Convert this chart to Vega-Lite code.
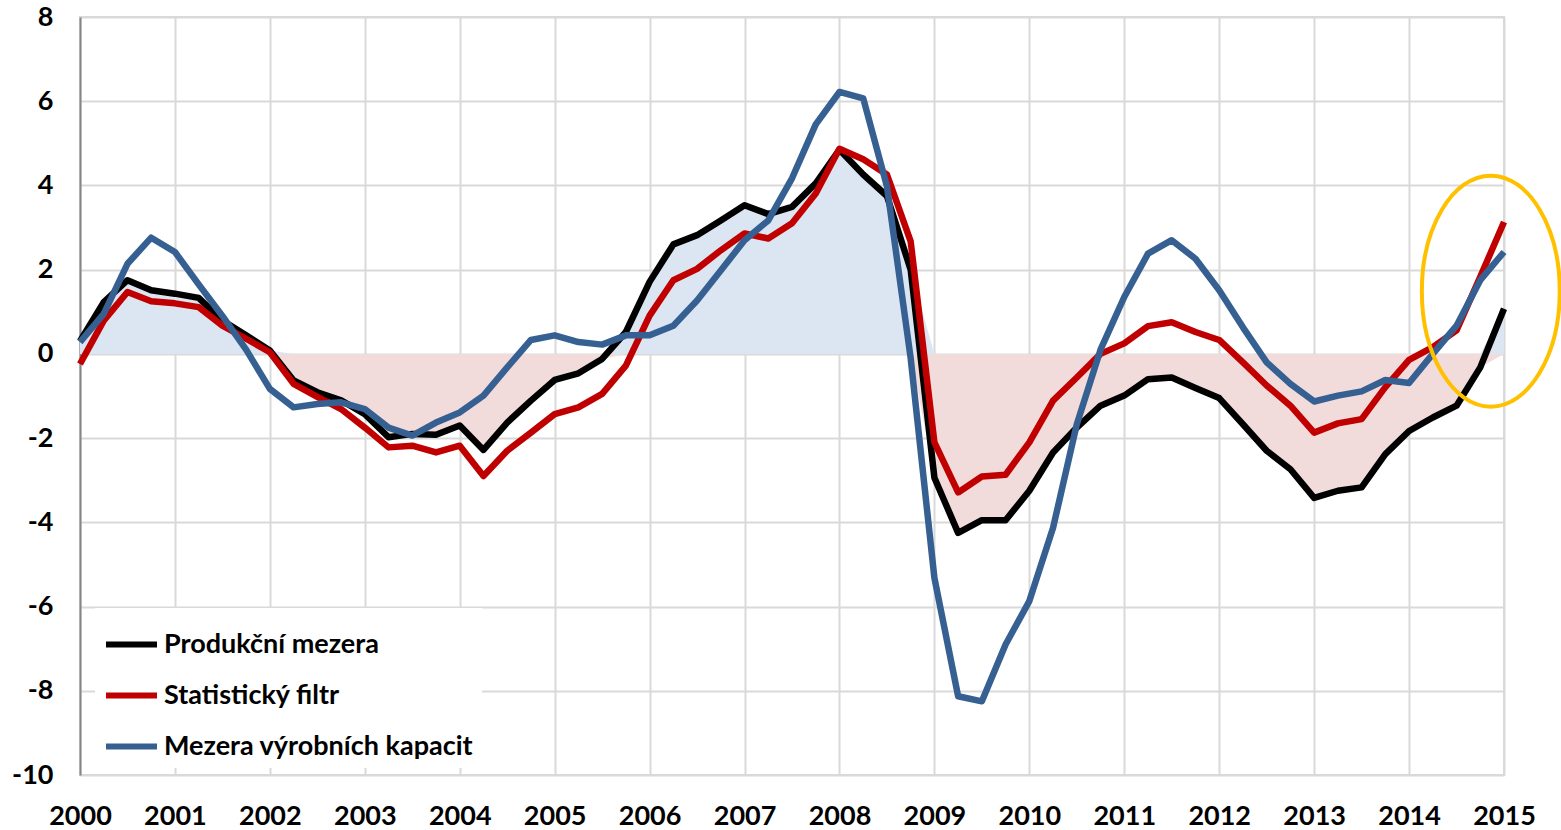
{
  "$schema": "https://vega.github.io/schema/vega-lite/v6.json",
  "width": 1424,
  "height": 758,
  "autosize": {"type": "none"},
  "padding": {"left": 80, "top": 17, "right": 57, "bottom": 55},
  "background": "white",
  "config": {
    "view": {"stroke": "#D9D9D9", "strokeWidth": 2},
    "axis": {
      "labelFont": "Lato",
      "labelFontWeight": "bold",
      "labelFontSize": 27,
      "labelColor": "black",
      "ticks": false,
      "gridColor": "#D9D9D9",
      "gridWidth": 2,
      "title": null
    }
  },
  "datasets": {
    "q": [
      {"t": 2000.00, "p": 0.30, "s": -0.24, "m": 0.28, "pos": 0.30, "neg": 0},
      {"t": 2000.25, "p": 1.23, "s": 0.79, "m": 0.95, "pos": 1.23, "neg": 0},
      {"t": 2000.50, "p": 1.75, "s": 1.47, "m": 2.14, "pos": 1.75, "neg": 0},
      {"t": 2000.75, "p": 1.51, "s": 1.25, "m": 2.76, "pos": 1.51, "neg": 0},
      {"t": 2001.00, "p": 1.43, "s": 1.20, "m": 2.42, "pos": 1.43, "neg": 0},
      {"t": 2001.25, "p": 1.33, "s": 1.11, "m": 1.65, "pos": 1.33, "neg": 0},
      {"t": 2001.50, "p": 0.79, "s": 0.67, "m": 0.90, "pos": 0.79, "neg": 0},
      {"t": 2001.75, "p": 0.44, "s": 0.36, "m": 0.10, "pos": 0.44, "neg": 0},
      {"t": 2002.00, "p": 0.08, "s": 0.04, "m": -0.83, "pos": 0.08, "neg": 0},
      {"t": 2002.25, "p": -0.63, "s": -0.71, "m": -1.27, "pos": 0, "neg": -0.63},
      {"t": 2002.50, "p": -0.91, "s": -1.02, "m": -1.19, "pos": 0, "neg": -0.91},
      {"t": 2002.75, "p": -1.10, "s": -1.31, "m": -1.15, "pos": 0, "neg": -1.10},
      {"t": 2003.00, "p": -1.43, "s": -1.75, "m": -1.31, "pos": 0, "neg": -1.43},
      {"t": 2003.25, "p": -1.98, "s": -2.22, "m": -1.75, "pos": 0, "neg": -1.98},
      {"t": 2003.50, "p": -1.90, "s": -2.18, "m": -1.94, "pos": 0, "neg": -1.90},
      {"t": 2003.75, "p": -1.92, "s": -2.34, "m": -1.63, "pos": 0, "neg": -1.92},
      {"t": 2004.00, "p": -1.70, "s": -2.18, "m": -1.39, "pos": 0, "neg": -1.70},
      {"t": 2004.25, "p": -2.28, "s": -2.90, "m": -0.99, "pos": 0, "neg": -2.28},
      {"t": 2004.50, "p": -1.63, "s": -2.30, "m": -0.32, "pos": 0, "neg": -1.63},
      {"t": 2004.75, "p": -1.11, "s": -1.87, "m": 0.33, "pos": 0, "neg": -1.11},
      {"t": 2005.00, "p": -0.62, "s": -1.43, "m": 0.44, "pos": 0, "neg": -0.62},
      {"t": 2005.25, "p": -0.46, "s": -1.27, "m": 0.28, "pos": 0, "neg": -0.46},
      {"t": 2005.50, "p": -0.12, "s": -0.95, "m": 0.22, "pos": 0, "neg": -0.12},
      {"t": 2005.75, "p": 0.52, "s": -0.28, "m": 0.44, "pos": 0.52, "neg": 0},
      {"t": 2006.00, "p": 1.71, "s": 0.91, "m": 0.44, "pos": 1.71, "neg": 0},
      {"t": 2006.25, "p": 2.60, "s": 1.75, "m": 0.67, "pos": 2.60, "neg": 0},
      {"t": 2006.50, "p": 2.82, "s": 2.02, "m": 1.27, "pos": 2.82, "neg": 0},
      {"t": 2006.75, "p": 3.17, "s": 2.46, "m": 1.98, "pos": 3.17, "neg": 0},
      {"t": 2007.00, "p": 3.53, "s": 2.86, "m": 2.70, "pos": 3.53, "neg": 0},
      {"t": 2007.25, "p": 3.32, "s": 2.74, "m": 3.17, "pos": 3.32, "neg": 0},
      {"t": 2007.50, "p": 3.49, "s": 3.10, "m": 4.17, "pos": 3.49, "neg": 0},
      {"t": 2007.75, "p": 4.05, "s": 3.81, "m": 5.45, "pos": 4.05, "neg": 0},
      {"t": 2008.00, "p": 4.85, "s": 4.87, "m": 6.22, "pos": 4.85, "neg": 0},
      {"t": 2008.25, "p": 4.26, "s": 4.62, "m": 6.07, "pos": 4.26, "neg": 0},
      {"t": 2008.50, "p": 3.75, "s": 4.26, "m": 3.98, "pos": 3.75, "neg": 0},
      {"t": 2008.75, "p": 2.00, "s": 2.67, "m": -0.10, "pos": 2.00, "neg": 0},
      {"t": 2009.00, "p": -2.94, "s": -2.10, "m": -5.32, "pos": 0, "neg": -2.94},
      {"t": 2009.25, "p": -4.25, "s": -3.29, "m": -8.13, "pos": 0, "neg": -4.25},
      {"t": 2009.50, "p": -3.95, "s": -2.91, "m": -8.25, "pos": 0, "neg": -3.95},
      {"t": 2009.75, "p": -3.95, "s": -2.87, "m": -6.90, "pos": 0, "neg": -3.95},
      {"t": 2010.00, "p": -3.25, "s": -2.10, "m": -5.87, "pos": 0, "neg": -3.25},
      {"t": 2010.25, "p": -2.34, "s": -1.11, "m": -4.13, "pos": 0, "neg": -2.34},
      {"t": 2010.50, "p": -1.75, "s": -0.56, "m": -1.67, "pos": 0, "neg": -1.75},
      {"t": 2010.75, "p": -1.23, "s": 0.00, "m": 0.10, "pos": 0, "neg": -1.23},
      {"t": 2011.00, "p": -0.99, "s": 0.25, "m": 1.35, "pos": 0, "neg": -0.99},
      {"t": 2011.25, "p": -0.60, "s": 0.66, "m": 2.38, "pos": 0, "neg": -0.60},
      {"t": 2011.50, "p": -0.56, "s": 0.75, "m": 2.70, "pos": 0, "neg": -0.56},
      {"t": 2011.75, "p": -0.81, "s": 0.52, "m": 2.26, "pos": 0, "neg": -0.81},
      {"t": 2012.00, "p": -1.05, "s": 0.33, "m": 1.51, "pos": 0, "neg": -1.05},
      {"t": 2012.25, "p": -1.67, "s": -0.20, "m": 0.63, "pos": 0, "neg": -1.67},
      {"t": 2012.50, "p": -2.30, "s": -0.75, "m": -0.20, "pos": 0, "neg": -2.30},
      {"t": 2012.75, "p": -2.74, "s": -1.23, "m": -0.71, "pos": 0, "neg": -2.74},
      {"t": 2013.00, "p": -3.42, "s": -1.87, "m": -1.13, "pos": 0, "neg": -3.42},
      {"t": 2013.25, "p": -3.25, "s": -1.65, "m": -0.99, "pos": 0, "neg": -3.25},
      {"t": 2013.50, "p": -3.17, "s": -1.55, "m": -0.89, "pos": 0, "neg": -3.17},
      {"t": 2013.75, "p": -2.38, "s": -0.79, "m": -0.62, "pos": 0, "neg": -2.38},
      {"t": 2014.00, "p": -1.83, "s": -0.14, "m": -0.69, "pos": 0, "neg": -1.83},
      {"t": 2014.25, "p": -1.51, "s": 0.16, "m": 0.00, "pos": 0, "neg": -1.51},
      {"t": 2014.50, "p": -1.23, "s": 0.56, "m": 0.67, "pos": 0, "neg": -1.23},
      {"t": 2014.75, "p": -0.32, "s": 1.83, "m": 1.75, "pos": 0, "neg": -0.32},
      {"t": 2015.00, "p": 1.07, "s": 3.13, "m": 2.42, "pos": 1.07, "neg": 0}
    ],
    "ring": [{"t": 2014.861, "v": 1.49}]
  },
  "data": {"name": "q"},
  "encoding": {
    "x": {
      "field": "t",
      "type": "quantitative",
      "scale": {"domain": [2000, 2015], "nice": false, "zero": false},
      "axis": {
        "values": [2000, 2001, 2002, 2003, 2004, 2005, 2006, 2007, 2008, 2009, 2010, 2011, 2012, 2013, 2014, 2015],
        "format": "d",
        "labelFlush": false,
        "labelOverlap": false,
        "labelPadding": 28,
        "domain": false,
        "zindex": 0
      }
    }
  },
  "layer": [
    {
      "mark": {"type": "area", "color": "#DCE6F2", "opacity": 1},
      "encoding": {
        "y": {
          "field": "pos",
          "type": "quantitative",
          "scale": {"domain": [-10, 8], "nice": false, "zero": false},
          "axis": {
            "values": [-10, -8, -6, -4, -2, 0, 2, 4, 6, 8],
            "labelExpr": "'' + datum.value",
            "labelPadding": 27,
            "domain": true,
            "domainColor": "#868686",
            "domainWidth": 2,
            "zindex": 0
          }
        },
        "y2": {"datum": 0}
      }
    },
    {
      "mark": {"type": "area", "color": "#F2DCDB", "opacity": 1},
      "encoding": {
        "y": {"field": "neg", "type": "quantitative"},
        "y2": {"datum": 0}
      }
    },
    {
      "data": {"values": [{}]},
      "mark": {"type": "rule", "color": "#000000", "opacity": 0.12, "strokeWidth": 5, "xOffset": 4},
      "encoding": {
        "x": {"datum": 2015},
        "y": {"datum": 7.9},
        "y2": {"datum": -10}
      }
    },
    {
      "data": {"values": [{}]},
      "mark": {"type": "rule", "color": "#000000", "opacity": 0.12, "strokeWidth": 5, "yOffset": 4},
      "encoding": {
        "x": {"datum": 2000.05},
        "x2": {"datum": 2015},
        "y": {"datum": -10}
      }
    },
    {
      "data": {"values": [{}]},
      "mark": {"type": "rule", "color": "#868686", "strokeWidth": 2},
      "encoding": {
        "x": {"datum": 2000},
        "x2": {"datum": 2015},
        "y": {"datum": 0}
      }
    },
    {
      "mark": {"type": "line", "strokeWidth": 6.5, "strokeJoin": "round"},
      "encoding": {
        "y": {"field": "p", "type": "quantitative"},
        "color": {
          "datum": "Produkční mezera",
          "type": "nominal",
          "scale": {
            "domain": ["Produkční mezera", "Statistický filtr", "Mezera výrobních kapacit"],
            "range": ["#000000", "#C00000", "#376092"]
          },
          "legend": {
            "title": null,
            "orient": "none",
            "legendX": 15,
            "legendY": 591,
            "padding": 8,
            "fillColor": "white",
            "strokeColor": null,
            "symbolType": "stroke",
            "symbolSize": 2600,
            "symbolStrokeWidth": 6,
            "rowPadding": 9,
            "labelOffset": 4,
            "labelFont": "Lato",
            "labelFontWeight": "bold",
            "labelFontSize": 27,
            "labelColor": "black",
            "labelLimit": 500
          }
        }
      }
    },
    {
      "mark": {"type": "line", "strokeWidth": 6.5, "strokeJoin": "round"},
      "encoding": {
        "y": {"field": "s", "type": "quantitative"},
        "color": {"datum": "Statistický filtr", "type": "nominal"}
      }
    },
    {
      "mark": {"type": "line", "strokeWidth": 6.5, "strokeJoin": "round"},
      "encoding": {
        "y": {"field": "m", "type": "quantitative"},
        "color": {"datum": "Mezera výrobních kapacit", "type": "nominal"}
      }
    },
    {
      "data": {"name": "ring"},
      "mark": {
        "type": "point",
        "shape": "M -0.597 0 A 0.597 1 0 1 0 0.597 0 A 0.597 1 0 1 0 -0.597 0 Z",
        "size": 53361,
        "filled": false,
        "stroke": "#FFC000",
        "strokeWidth": 4,
        "opacity": 1
      },
      "encoding": {
        "x": {"field": "t", "type": "quantitative"},
        "y": {"field": "v", "type": "quantitative"}
      }
    }
  ]
}
